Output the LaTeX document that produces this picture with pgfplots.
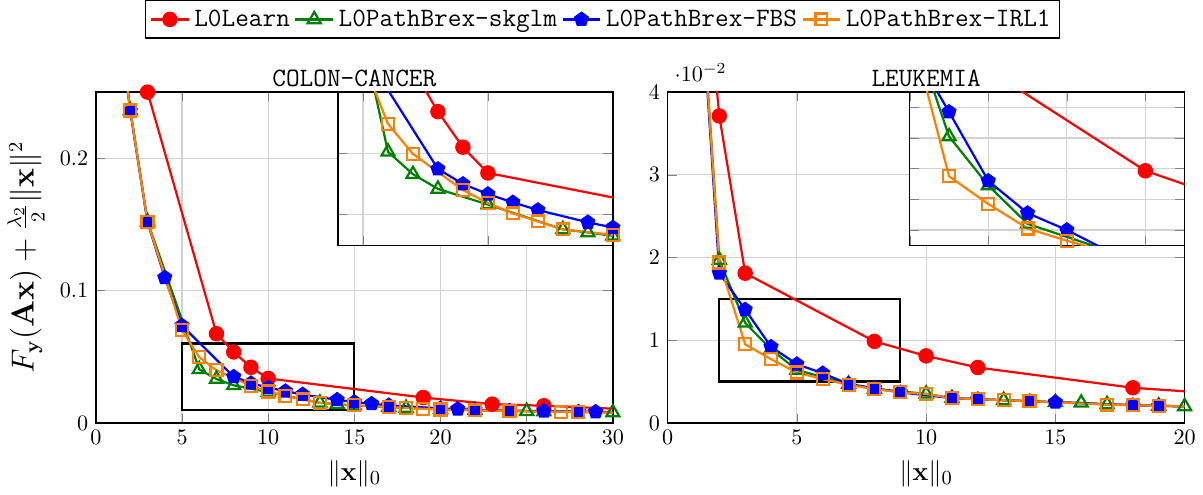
\documentclass[border=0pt]{standalone}
\usepackage{pgfplots}
\pgfplotsset{compat=1.18}
\usepackage{pgfplotstable}
\definecolor{cgreen}{rgb}{0,0.5,0}
\definecolor{corange}{rgb}{1,0.5,0}

% ---- COLON-CANCER ----
\pgfplotstableread{
x y
3 0.2499
7 0.0674
8 0.0536
9 0.0420
10 0.0336
19 0.0192
23 0.0142
26 0.0130
32 0.0097
}\LredA
\pgfplotstableread{
x y
1 0.336
2 0.236
3 0.152
6 0.0405
7 0.0332
8 0.0284
10 0.0233
13 0.0152
14 0.0142
15 0.0131
17 0.0120
18 0.0113
20 0.0103
22 0.0096
25 0.0089
26 0.0087
30 0.0079
32 0.0076
}\LgreenA
\pgfplotstableread{
x y
1 0.336
2 0.2356
3 0.1515
4 0.1098
5 0.0735
8 0.0349
9 0.0300
10 0.0267
11 0.0240
12 0.0215
14 0.0175
15 0.0158
16 0.0145
17 0.0133
20 0.0110
21 0.0105
22 0.0099
24 0.0093
26 0.0089
28 0.0085
29 0.0084
32 0.0080
}\LblueA
\pgfplotstableread{
x y
1 0.336
2 0.236
3 0.152
5 0.0702
6 0.0496
7 0.0398
9 0.0280
10 0.0238
11 0.0204
12 0.0178
13 0.0152
15 0.0134
17 0.0120
18 0.0113
19 0.0107
20 0.0102
22 0.0095
24 0.0090
27 0.0083
28 0.0081
32 0.0075
}\LorangeA

% ---- LEUKEMIA ----
\pgfplotstableread{
x y
1 0.070
2 0.0371
3 0.0181
8 0.00986
10 0.0081
12 0.0067
18 0.00425
22 0.0034
}\LredB
\pgfplotstableread{
x y
1 0.066
2 0.0197
3 0.0121
4 0.0089
5 0.0064
7 0.0047
8 0.0041
10 0.00352
11 0.00300
13 0.00275
15 0.00250
16 0.00243
17 0.00225
19 0.00206
20 0.00200
22 0.00190
}\LgreenB
\pgfplotstableread{
x y
1 0.066
2 0.0181
3 0.0137
4 0.0092
5 0.0071
6 0.0060
7 0.0047
8 0.0042
9 0.0037
11 0.00300
12 0.00287
14 0.00263
15 0.00250
18 0.00214
19 0.00206
22 0.00190
}\LblueB
\pgfplotstableread{
x y
1 0.066
2 0.0194
3 0.0095
4 0.0077
5 0.0061
6 0.0053
7 0.0046
8 0.0041
9 0.0037
10 0.00350
11 0.00300
12 0.00287
13 0.00275
14 0.00263
17 0.00222
18 0.00214
19 0.00206
22 0.00190
}\LorangeB

\pgfplotsset{
  sred/.style={red, line width=1pt, mark=*, mark size=3pt, mark options={solid}},
  sgreen/.style={cgreen, line width=1pt, mark=triangle, mark size=3.4pt, mark options={solid, line width=1pt}},
  sblue/.style={blue, line width=1pt, mark=pentagon*, mark size=3pt, mark options={solid}},
  sorange/.style={corange, line width=1pt, mark=square, mark size=2.7pt, mark options={solid, line width=1pt}},
  mainax/.style={scale only axis, width=234pt, height=149.8pt, grid=major,
    grid style={gray!35, line width=0.5pt}, axis line style={line width=0.6pt},
    title style={font=\large\ttfamily, yshift=-7pt},
    xlabel style={font=\fontsize{12.6}{15}\selectfont},
    ylabel style={font=\fontsize{13.5}{16}\selectfont}},
  insetax/.style={scale only axis, width=124.4pt, height=69.4pt, grid=major,
    grid style={gray!35, line width=0.5pt}, axis line style={line width=0.6pt},
    xticklabels={}, yticklabels={}, scaled ticks=false,
    axis background/.style={fill=white}},
}

\begin{document}
\begin{tikzpicture}
% ---------------- left panel ----------------
\begin{axis}[mainax, name=L, at={(0pt,0pt)}, anchor=south west,
  xmin=0, xmax=30, ymin=0, ymax=0.25,
  xtick={0,5,10,15,20,25,30}, ytick={0,0.1,0.2},
  title={COLON-CANCER},
  xlabel={$\|\mathbf{x}\|_0$},
  ylabel={$F_{\mathbf{y}}(\mathbf{A}\mathbf{x})+\frac{\lambda_2}{2}\|\mathbf{x}\|^2$},
  legend columns=4,
  legend style={at={(0.98,1.278)}, anchor=north, font=\large\ttfamily,
    draw=black, line width=0.6pt, inner sep=2pt}]
\addplot[black, line width=1pt, mark=none, forget plot] coordinates {(5,0.01) (15,0.01) (15,0.06) (5,0.06)} -- cycle;
\addplot[sred] table {\LredA};
\addlegendentry{L0Learn}
\addplot[sgreen] table {\LgreenA};
\addlegendentry{L0PathBrex-skglm}
\addplot[sblue] table {\LblueA};
\addlegendentry{L0PathBrex-FBS}
\addplot[sorange] table {\LorangeA};
\addlegendentry{L0PathBrex-IRL1}
\end{axis}
\begin{axis}[insetax, at={(L.north east)}, anchor=north east,
  xmin=4, xmax=15, ymin=0.01, ymax=0.06,
  xtick={5,10,15}, ytick={0.02,0.04,0.06}]
\addplot[sred] table {\LredA};
\addplot[sgreen] table {\LgreenA};
\addplot[sblue] table {\LblueA};
\addplot[sorange] table {\LorangeA};
\end{axis}

% ---------------- right panel ----------------
\begin{axis}[mainax, name=R, at={(258.8pt,0pt)}, anchor=south west,
  xmin=0, xmax=20, ymin=0, ymax=0.04,
  xtick={0,5,10,15,20}, ytick={0,0.01,0.02,0.03,0.04},
  scaled y ticks=base 10:2,
  title={LEUKEMIA},
  xlabel={$\|\mathbf{x}\|_0$}]
\addplot[black, line width=1pt, mark=none, forget plot] coordinates {(2,0.005) (9,0.005) (9,0.015) (2,0.015)} -- cycle;
\addplot[sred] table {\LredB};
\addplot[sgreen] table {\LgreenB};
\addplot[sblue] table {\LblueB};
\addplot[sorange] table {\LorangeB};
\end{axis}
\begin{axis}[insetax, at={(R.north east)}, anchor=north east,
  xmin=2, xmax=9, ymin=0.005, ymax=0.015,
  xtick={2,4,6,8}, ytick={0.006,0.008,0.010,0.012,0.014}]
\addplot[sred] table {\LredB};
\addplot[sgreen] table {\LgreenB};
\addplot[sblue] table {\LblueB};
\addplot[sorange] table {\LorangeB};
\end{axis}
\end{tikzpicture}
\end{document}
